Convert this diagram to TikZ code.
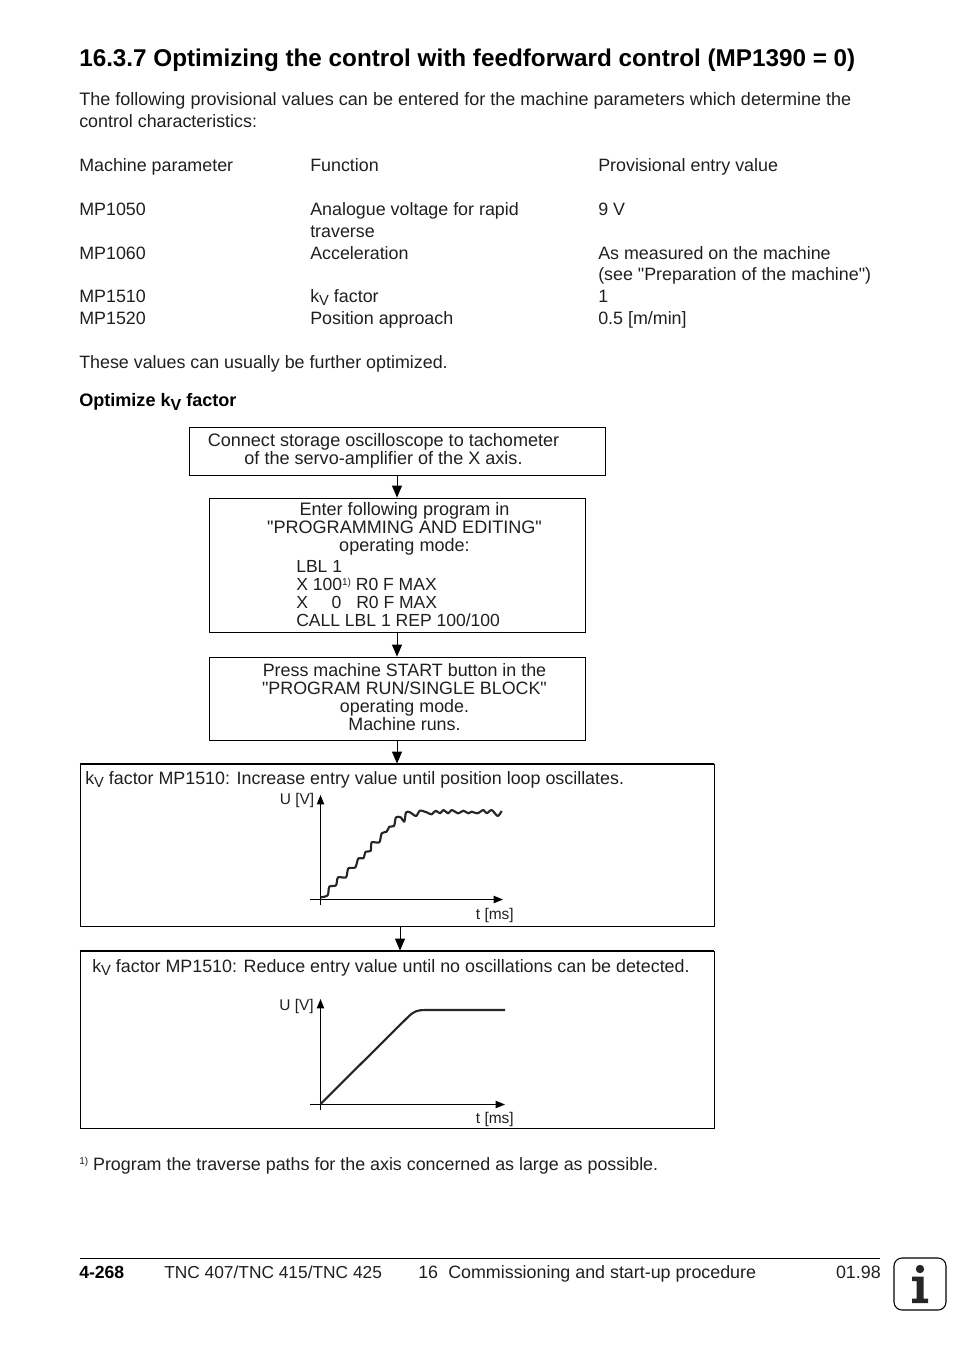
\documentclass[tikz,border=0pt]{standalone}
\usepackage{fontspec}
\setmainfont{Liberation Sans}[Ligatures=TeXOff]
\usetikzlibrary{arrows.meta}
\def\px{0.75pt}
\newcommand{\kvsub}{\raisebox{-0.42ex}{\fontsize{11}{12}\selectfont V}}
\newcommand{\noteref}{\raisebox{0.55ex}{\fontsize{7.5}{8}\selectfont 1)}}
\tikzset{
  pagetext/.style={anchor=base west,inner sep=0pt,text=black!88,font=\fontsize{13.4}{13.5}\selectfont},
  boxtext/.style={inner sep=0pt,text=black!88,align=center,font=\fontsize{13.4}{13.5}\selectfont},
  codetext/.style={boxtext,align=left,anchor=north west,font=\fontsize{13.15}{13.5}\selectfont},
  flowbox/.style={draw=black,line width=0.6pt,inner sep=0pt},
  flowarrow/.style={line width=0.7pt,-{Triangle[length=9pt,width=7.5pt]}},
  axisarrow/.style={line width=0.7pt,-{Triangle[length=7pt,width=5.5pt]}},
  axislabel/.style={inner sep=0pt,text=black!88,font=\fontsize{11.6}{12}\selectfont}
}
\begin{document}
\begin{tikzpicture}[x=0.75pt,y=-0.75pt]
  \useasboundingbox (0,0) rectangle (954,1346);
  \node[pagetext,font=\fontsize{18.2}{20}\bfseries,text=black] (title) at (79,66)
    {16.3.7 Optimizing the control with feedforward control (MP1390 = 0)};
  \node[pagetext,font=\fontsize{13.53}{13.5}\selectfont] (introA) at (79,105)
    {The following provisional values can be entered for the machine parameters which determine the};
  \node[pagetext] (introB) at (79,127) {control characteristics:};

  \node[pagetext] (headParam) at (79,171) {Machine parameter};
  \node[pagetext] (headFunc) at (310,171) {Function};
  \node[pagetext] (headValue) at (598,171) {Provisional entry value};
  \node[pagetext] (paramA) at (79,215) {MP1050};
  \node[pagetext] (funcA) at (310,215) {Analogue voltage for rapid};
  \node[pagetext] (funcAb) at (310,237) {traverse};
  \node[pagetext] (valueA) at (598,215) {9 V};
  \node[pagetext] (paramB) at (79,259) {MP1060};
  \node[pagetext] (funcB) at (310,259) {Acceleration};
  \node[pagetext] (valueB) at (598,259) {As measured on the machine};
  \node[pagetext] (valueBb) at (598,280) {(see "Preparation of the machine")};
  \node[pagetext] (paramC) at (79,302) {MP1510};
  \node[pagetext] (funcC) at (310,302) {k\kvsub{} factor};
  \node[pagetext] (valueC) at (598,302) {1};
  \node[pagetext] (paramD) at (79,324) {MP1520};
  \node[pagetext] (funcD) at (310,324) {Position approach};
  \node[pagetext] (valueD) at (598,324) {0.5 [m/min]};
  \node[pagetext] (further) at (79,368) {These values can usually be further optimized.};
  \node[pagetext,font=\fontsize{13.55}{13.5}\bfseries,text=black] (optimize) at (79,406)
    {Optimize k{\raisebox{-0.5ex}{\fontsize{12}{12}\selectfont V}} factor};

  % flow boxes
  \node[flowbox,minimum width=416*\px,minimum height=48*\px] (connect) at (397,451) {};
  \node[flowbox,minimum width=376*\px,minimum height=134*\px] (enter) at (397,565) {};
  \node[flowbox,minimum width=376*\px,minimum height=83*\px] (press) at (397,698.5) {};
  \node[flowbox,minimum width=634*\px,minimum height=162*\px] (increase) at (397,845) {};
  \node[flowbox,minimum width=634*\px,minimum height=177*\px] (reduce) at (397,1039.5) {};
  \draw[line width=1.2pt] (connect.south west) -- (connect.south east);
  \draw[line width=1pt] (increase.north west) -- (increase.north east);
  \draw[line width=1pt] (reduce.north west) -- (reduce.north east);

  \draw[flowarrow] (connect) -- (enter);
  \draw[flowarrow] (enter) -- (press);
  \draw[flowarrow] (press) -- (increase);
  \draw[flowarrow] ([xshift=2.25pt]increase.south) -- ([xshift=2.25pt]reduce.north);

  \node[boxtext,font=\fontsize{13.55}{13.5}\selectfont] (connectText) at (383.5,451)
    {Connect storage oscilloscope to tachometer\\of the servo-amplifier of the X axis.};
  \node[boxtext,font=\fontsize{13.55}{13.5}\selectfont] (enterText) at (404.5,529)
    {Enter following program in\\"PROGRAMMING AND EDITING"\\operating mode:};
  \node[codetext] (codeText) at (296,560.5)
    {LBL 1\\X 100\noteref{} R0 F MAX\\X\hspace{1.35em}0\hspace{0.85em}R0 F MAX\\CALL LBL 1 REP 100/100};
  \node[boxtext] (pressText) at (404.5,697)
    {Press machine START button in the\\"PROGRAM RUN/SINGLE BLOCK"\\operating mode.\\Machine runs.};
  \node[pagetext] (increaseText) at (85,784)
    {k\kvsub{} factor MP1510: Increase entry value until position loop oscillates.};
  \node[pagetext] (reduceText) at (92,972)
    {k\kvsub{} factor MP1510: Reduce entry value until no oscillations can be detected.};

  % upper plot
  \draw[axisarrow] (320.5,905) -- (320.5,795);
  \draw[axisarrow] (310,899.5) -- (503,899.5);
  \node[axislabel,anchor=base east] (upperU) at (314.5,804) {U [V]};
  \node[axislabel,anchor=base east] (upperT) at (514,919) {t [ms]};
  \begin{scope}[shift={(270,780)},x=0.25pt,y=-0.25pt]
    \draw[line width=1.6pt,line join=round,black!85] plot[smooth,tension=0.45] coordinates {
      (152,352) (173,346) (178,320) (198,316) (204,292) (228,292) (235,265) (256,262)
      (265,235) (280,235) (287,215) (302,213) (305,187) (328,187) (335,160) (350,155)
      (358,140) (372,138) (378,112) (392,112) (403,125) (408,97) (420,97) (438,108)
      (450,92) (470,97) (485,103) (497,92) (510,100) (520,90) (535,100) (545,90)
      (565,100) (580,92) (595,100) (605,95) (622,100) (640,90) (650,100) (665,90)
      (683,108) (695,93)};
  \end{scope}

  % lower plot
  \draw[axisarrow] (320.5,1110) -- (320.5,999);
  \draw[axisarrow] (310,1104.5) -- (505,1104.5);
  \node[axislabel,anchor=base east] (lowerU) at (314,1010) {U [V]};
  \node[axislabel,anchor=base east] (lowerT) at (514,1123) {t [ms]};
  \draw[line width=1.6pt,black!85] (320.5,1104) -- (408,1017)
    .. controls (414,1011) and (418,1010) .. (425,1010) -- (505,1010);

  \node[pagetext] (footnote) at (79,1170) {\noteref{} Program the traverse paths for the axis concerned as large as possible.};

  % footer
  \draw[line width=0.6pt] (80,1258.5) -- (880,1258.5);
  \node[pagetext,font=\fontsize{13.2}{13.5}\bfseries,text=black] (pageNo) at (79,1278) {4-268};
  \node[pagetext,font=\fontsize{13}{13.5}\selectfont] (models) at (164,1278) {TNC 407/TNC 415/TNC 425};
  \node[pagetext] (chapterNo) at (418,1278) {16};
  \node[pagetext] (chapter) at (448,1278) {Commissioning and start-up procedure};
  \node[pagetext,anchor=base east] (date) at (881,1278) {01.98};
  \draw[line width=0.8pt,rounded corners=6pt] (894,1258) rectangle (946,1310);
  \fill[black!85] (920,1269) circle (4.2);
  \fill[black!85] (912,1276.5) -- (923.5,1276.5) -- (923.5,1298.5) -- (928,1298.5) -- (928,1303)
    -- (912,1303) -- (912,1298.5) -- (916.5,1298.5) -- (916.5,1281) -- (912,1281) -- cycle;
\end{tikzpicture}
\end{document}
